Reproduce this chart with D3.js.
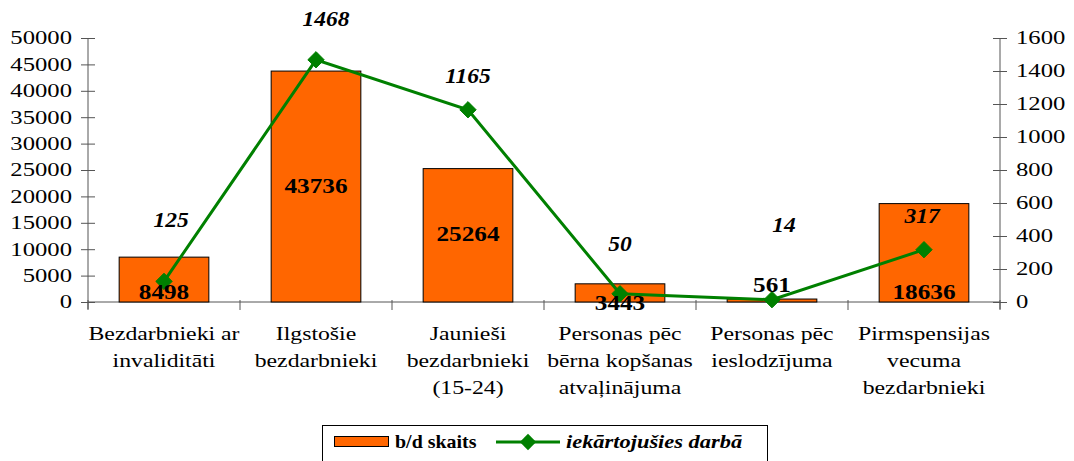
<!DOCTYPE html>
<html><head><meta charset="utf-8">
<script src="https://cdn.jsdelivr.net/npm/d3@7"></script>
<style>body{margin:0;background:#fff}svg{display:block}
svg text{font-family:"Liberation Serif","Times New Roman",serif;}
</style>
</head><body>
<svg id="c" width="1074" height="461"></svg>
<script>
const categories = [
  ["Bezdarbnieki ar","invaliditāti"],
  ["Ilgstošie","bezdarbnieki"],
  ["Jaunieši","bezdarbnieki","(15-24)"],
  ["Personas pēc","bērna kopšanas","atvaļinājuma"],
  ["Personas pēc","ieslodzījuma"],
  ["Pirmspensijas","vecuma","bezdarbnieki"]
];
const barValues = [8498, 43736, 25264, 3443, 561, 18636];
const lineValues = [125, 1468, 1165, 50, 14, 317];
const leftTicks = [0,5000,10000,15000,20000,25000,30000,35000,40000,45000,50000];
const rightTicks = [0,200,400,600,800,1000,1200,1400,1600];
const seriesNames = ["b/d skaits", "iekārtojušies darbā"];

// label placement (manual in the original)
const barLabelPlace = ["base","center","center","low","above","base"];
const lineLabelOffset = [[7,-54],[10,-34],[0,-27],[0,-43],[12,-68],[-2,-27]];

const svg = d3.select("#c");
const L = 88, R = 1000, T = 38, B = 302;

const x = d3.scaleBand().domain(d3.range(categories.length)).range([L,R]).paddingInner(0.41).paddingOuter(0.205);
const band = (R-L)/categories.length;
const yL = d3.scaleLinear().domain([0,50000]).range([B,T]);
const yR = d3.scaleLinear().domain([0,1600]).range([B,T]);

// put a text at (px,py) with horizontal stretch s
function place(sel, px, py, s){
  sel.attr("x",0).attr("y",0).attr("transform",`translate(${px},${py}) scale(${s},1)`);
  return sel;
}

const axisColor = "#555";
const TS = 1.37;
const gL = svg.append("g").attr("transform",`translate(${L},0)`)
  .call(d3.axisLeft(yL).tickValues(leftTicks).tickSize(6).tickPadding(10).tickFormat(d3.format("d")));
const gR = svg.append("g").attr("transform",`translate(${R},0)`)
  .call(d3.axisRight(yR).tickValues(rightTicks).tickSize(6).tickPadding(10).tickFormat(d3.format("d")));
[gL,gR].forEach(g=>{
  g.attr("font-family",null);
  g.select(".domain").attr("stroke",axisColor);
  g.selectAll(".tick line").attr("stroke",axisColor);
  g.selectAll("text").attr("font-size",18).attr("fill","#000").attr("dy","0.33em");
});
gL.selectAll(".tick text").attr("x",0).attr("transform",`translate(-16,0) scale(${TS},1)`);
gR.selectAll(".tick text").attr("x",0).attr("transform",`translate(16,0) scale(${TS},1)`);
gL.select(".domain").attr("d",`M0,${T}V${B+7}`);
gR.select(".domain").attr("d",`M0,${T}V${B+7}`);
gL.selectAll(".tick line").attr("x1",7).attr("x2",-7);
gR.selectAll(".tick line").attr("x1",-7).attr("x2",7);

svg.append("line").attr("x1",L).attr("x2",R).attr("y1",B).attr("y2",B).attr("stroke",axisColor);
const xTicks = d3.range(categories.length+1).map(i=>L+i*band);
svg.selectAll(".xt").data(xTicks).join("line")
  .attr("x1",d=>d).attr("x2",d=>d).attr("y1",B-2).attr("y2",B+8).attr("stroke",axisColor);

svg.selectAll(".bar").data(barValues).join("rect")
  .attr("x",(d,i)=>x(i)).attr("width",x.bandwidth())
  .attr("y",d=>yL(d)).attr("height",d=>B-yL(d))
  .attr("fill","#FF6600").attr("stroke","#000").attr("stroke-width",1);

const cx = i => x(i)+x.bandwidth()/2;

// category labels
categories.forEach((lines,i)=>{
  const g = svg.append("g");
  lines.forEach((t,j)=>{
    place(g.append("text"), cx(i), 340+j*27, 1.25)
      .attr("text-anchor","middle").attr("font-size",19).attr("fill","#000").text(t);
  });
});

svg.append("path").datum(lineValues)
  .attr("d",d3.line().x((d,i)=>cx(i)).y(d=>yR(d)))
  .attr("fill","none").attr("stroke","#008000").attr("stroke-width",3);
const diamond = d3.symbol().type(d3.symbolDiamond2).size(170);
svg.selectAll(".mk").data(lineValues).join("path")
  .attr("transform",(d,i)=>`translate(${cx(i)},${yR(d)})`)
  .attr("d",diamond).attr("fill","#008000").attr("stroke","#008000");

// bar labels
svg.selectAll(".bl").data(barValues).join("text")
  .each(function(d,i){
    const p = barLabelPlace[i];
    let py;
    if(p==="center") py = (yL(d)+B)/2+6;
    else if(p==="base") py = B-3;
    else if(p==="low") py = B+8;
    else py = yL(d)-7;
    place(d3.select(this), cx(i), py, 1.2);
  })
  .attr("text-anchor","middle").attr("font-weight","bold")
  .attr("font-size",21).attr("fill","#000").text(d=>d);

// line labels
svg.selectAll(".ll").data(lineValues).join("text")
  .each(function(d,i){
    place(d3.select(this), cx(i)+lineLabelOffset[i][0], yR(d)+lineLabelOffset[i][1], 1.12);
  })
  .attr("text-anchor","middle").attr("font-weight","bold").attr("font-style","italic")
  .attr("font-size",21).attr("fill","#000").text(d=>d);

// legend
const lg = svg.append("g");
lg.append("rect").attr("x",322.5).attr("y",425.5).attr("width",445).attr("height",40).attr("fill","#fff").attr("stroke","#000");
lg.append("rect").attr("x",334.5).attr("y",436.5).attr("width",54).attr("height",10).attr("fill","#FF6600").attr("stroke","#000");
place(lg.append("text"),395,448,1.05).attr("font-weight","bold").attr("font-size",19).text(seriesNames[0]);
lg.append("line").attr("x1",496).attr("x2",560).attr("y1",442).attr("y2",442).attr("stroke","#008000").attr("stroke-width",3);
lg.append("path").attr("transform","translate(528,442)").attr("d",diamond).attr("fill","#008000");
place(lg.append("text"),566,448,1.18).attr("font-weight","bold").attr("font-style","italic").attr("font-size",19).text(seriesNames[1]);
</script>
</body></html>
